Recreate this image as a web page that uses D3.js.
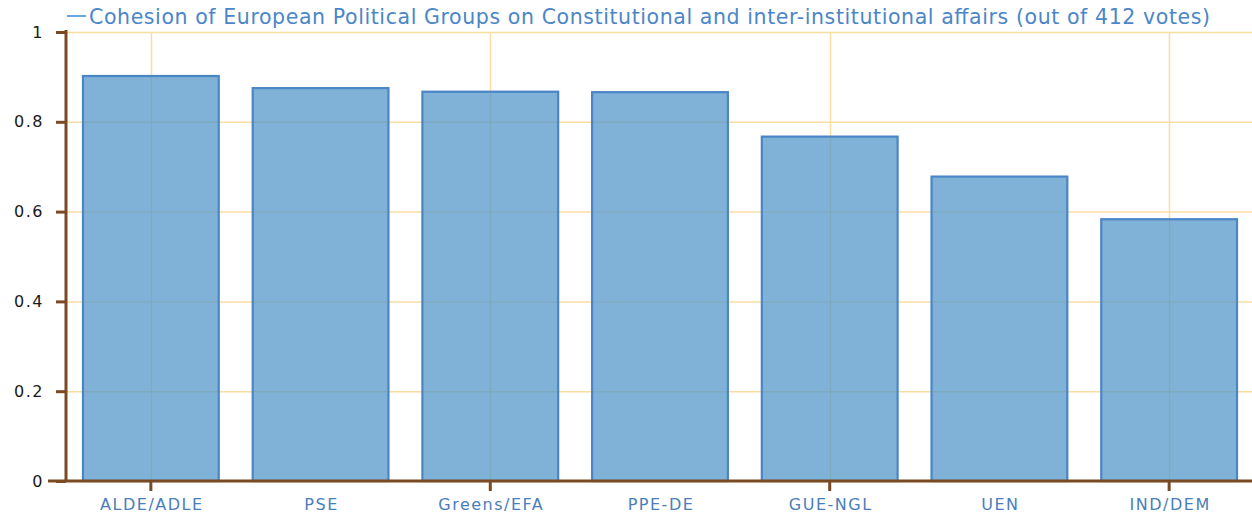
<!DOCTYPE html>
<html><head><meta charset="utf-8">
<script src="https://cdn.jsdelivr.net/npm/d3@7"></script>
<style>body{margin:0;background:#fff;}svg{display:block;}</style>
</head><body>
<svg id="c" width="1252" height="514"></svg>
<script>
const categories = ["ALDE/ADLE","PSE","Greens/EFA","PPE-DE","GUE-NGL","UEN","IND/DEM"];
const values = [0.902, 0.875, 0.867, 0.866, 0.767, 0.678, 0.583];
const yTicks = [0, 0.2, 0.4, 0.6, 0.8, 1];
const yTickLabels = ["0","0.2","0.4","0.6","0.8","1"];
const seriesName = "Cohesion of European Political Groups on Constitutional and inter-institutional affairs (out of 412 votes)";

const svg = d3.select("#c");
const m = {l:66, r:-2, t:32, b:33};
const W = 1252, H = 514;
const x = d3.scaleBand().domain(categories).range([m.l, W - m.r]).paddingInner(0.2).paddingOuter(0.1);
const y = d3.scaleLinear().domain([0,1]).range([H - m.b, m.t]);
const font = "'DejaVu Sans', Verdana, sans-serif";
const gridCats = categories.filter((d,i)=> i%2===0);

// grid
svg.append("g").selectAll("line").data(yTicks.slice(1)).join("line")
  .attr("x1", m.l).attr("x2", W).attr("y1", d=>y(d)+0.5).attr("y2", d=>y(d)+0.5)
  .attr("stroke", "#f8dea0").attr("stroke-width", 1.5);
svg.append("g").selectAll("line").data(gridCats).join("line")
  .attr("x1", d=>Math.round(x(d)+x.bandwidth()/2)+0.5).attr("x2", d=>Math.round(x(d)+x.bandwidth()/2)+0.5)
  .attr("y1", m.t).attr("y2", y(0))
  .attr("stroke", "#f8dea0").attr("stroke-width", 1.5);

// bars
svg.append("g").selectAll("rect").data(values).join("rect")
  .attr("x", (d,i)=>x(categories[i]))
  .attr("y", d=>y(d))
  .attr("width", x.bandwidth())
  .attr("height", d=>y(0)-y(d))
  .attr("fill", "#5598cb").attr("fill-opacity", 0.75)
  .attr("stroke", "#4a85c6").attr("stroke-width", 2.2);

// y axis
const yAxis = d3.axisLeft(y).tickValues(yTicks).tickFormat((d,i)=>yTickLabels[i]).tickSize(10).tickPadding(12);
const ga = svg.append("g").attr("transform", `translate(${m.l},0)`).call(yAxis);
ga.select(".domain").attr("stroke", "#7a4a22").attr("stroke-width", 3).attr("d", `M0,${m.t-2}V${y(0)}`);
ga.selectAll(".tick line").attr("stroke", "#7a4a22").attr("stroke-width", 3);
ga.selectAll(".tick text").attr("fill", "#1a1a1a").style("font-family", font).style("font-size", "16px").style("letter-spacing", "1.5px");

// x axis
const xAxis = d3.axisBottom(x).tickSize(0).tickPadding(18);
const gx = svg.append("g").attr("transform", `translate(0,${y(0)})`).call(xAxis);
gx.select(".domain").attr("stroke", "#7a4a22").attr("stroke-width", 3).attr("d", `M48,0H${W}`);
gx.selectAll(".tick text").attr("fill", "#4a7ebb").attr("dx", "1px").style("font-family", font).style("font-size", "16px").style("letter-spacing", "1.5px");
gx.selectAll(".tick").filter((d,i)=>i%2===0).append("line")
  .attr("y1", 0).attr("y2", 10).attr("stroke", "#7a4a22").attr("stroke-width", 3);

// legend
const lg = svg.append("g");
lg.append("line").attr("x1", 67).attr("x2", 86).attr("y1", 16).attr("y2", 16)
  .attr("stroke", "#6aa7de").attr("stroke-width", 2);
lg.append("text").attr("x", 89).attr("y", 24).text(seriesName)
  .attr("textLength", 1121).attr("lengthAdjust", "spacing")
  .attr("fill", "#4a86c8").style("font-family", font).style("font-size", "20.5px");
</script>
</body></html>
